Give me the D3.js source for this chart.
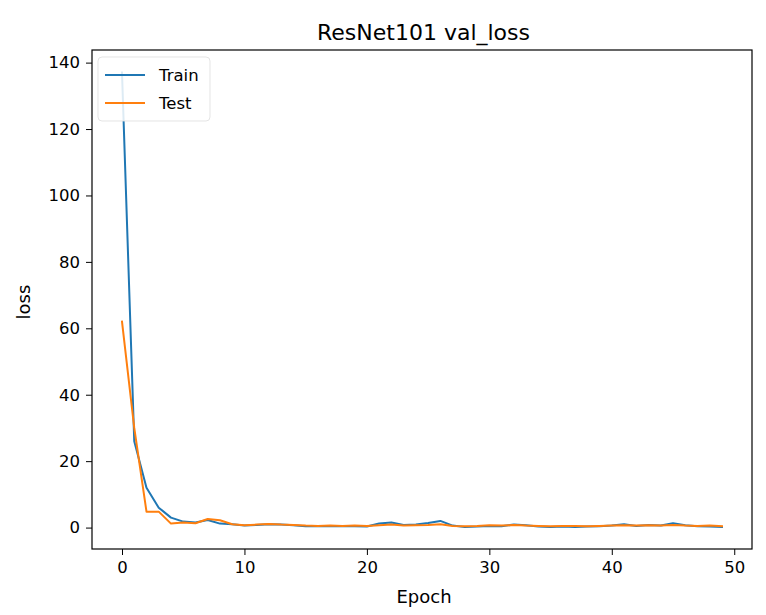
<!DOCTYPE html>
<html><head><meta charset="utf-8">
<script src="https://cdn.jsdelivr.net/npm/d3@7"></script>
<style>body{margin:0;background:#fff}svg{display:block}text{font-family:"DejaVu Sans",sans-serif;fill:#000}</style>
</head><body>
<script>
const epochs = d3.range(0, 50);
const trainLoss = [137,26,12,6,3,1.8,1.5,2.3,1.2,1.0,0.6,0.8,1.0,0.9,0.7,0.4,0.5,0.4,0.5,0.4,0.3,1.2,1.5,0.8,0.9,1.4,2.0,0.6,0.2,0.3,0.5,0.4,0.9,0.7,0.3,0.2,0.3,0.2,0.3,0.4,0.6,1.0,0.5,0.8,0.6,1.3,0.7,0.4,0.3,0.2];
const testLoss = [62,30,4.8,4.8,1.2,1.5,1.3,2.6,2.2,1.0,0.7,0.9,1.1,0.9,0.8,0.6,0.5,0.6,0.5,0.6,0.5,0.7,0.9,0.6,0.7,0.8,1.0,0.5,0.4,0.5,0.7,0.6,0.8,0.6,0.5,0.4,0.5,0.5,0.4,0.5,0.6,0.7,0.6,0.7,0.6,0.8,0.6,0.5,0.6,0.4];
const xTicks = [0,10,20,30,40,50];
const yTicks = [0,20,40,60,80,100,120,140];
const seriesNames = ["Train","Test"];
const colors = ["#1f77b4","#ff7f0e"];
const title = "ResNet101 val_loss";

const W = 766, H = 615;
const L = 92, R = 752, T = 50, B = 549;
const svg = d3.select("body").append("svg").attr("width", W).attr("height", H);
const x = d3.scaleLinear().domain([-2.45, 51.45]).range([L, R]);
const y = d3.scaleLinear().domain([-6.45, 143.8]).range([B, T]);

const g = svg.append("g");
const series = [trainLoss, testLoss];
const line = d3.line().x((d,i)=>x(epochs[i])).y(d=>y(d));
series.forEach((s,k)=>{
  g.append("path").datum(s).attr("d", line).attr("fill","none")
   .attr("stroke", colors[k]).attr("stroke-width", 2).attr("stroke-linejoin","round").attr("stroke-linecap","square");
});

// axes
const xa = svg.append("g").attr("transform", `translate(0,${B})`)
  .call(d3.axisBottom(x).tickValues(xTicks).tickSize(6).tickPadding(6).tickFormat(d3.format("d")));
const ya = svg.append("g").attr("transform", `translate(${L},0)`)
  .call(d3.axisLeft(y).tickValues(yTicks).tickSize(6).tickPadding(6).tickFormat(d3.format("d")));
[xa, ya].forEach(a=>{
  a.select(".domain").remove();
  a.selectAll("line").attr("stroke","#000").attr("stroke-width",1);
  a.selectAll("text").attr("font-size", 16.5).attr("font-family","DejaVu Sans").attr("fill","#000");
});
svg.append("rect").attr("x", L).attr("y", T).attr("width", R-L).attr("height", B-T)
  .attr("fill","none").attr("stroke","#000").attr("stroke-width",1.2);

// labels
svg.append("text").attr("x",423.5).attr("y",39.5).attr("text-anchor","middle").attr("font-size",22).text(title);
svg.append("text").attr("x",424).attr("y",603).attr("text-anchor","middle").attr("font-size",18).text("Epoch");
svg.append("text").attr("transform",`translate(29.5,302) rotate(-90)`).attr("text-anchor","middle").attr("font-size",18).text("loss");

// legend
const lg = svg.append("g");
lg.append("rect").attr("x",98).attr("y",57).attr("width",112).attr("height",64).attr("rx",4)
  .attr("fill","#fff").attr("fill-opacity",0.85).attr("stroke","#ddd").attr("stroke-opacity",0.8);
seriesNames.forEach((n,k)=>{
  const yy = 75 + k*28;
  lg.append("line").attr("x1",105).attr("x2",145).attr("y1",yy).attr("y2",yy).attr("stroke",colors[k]).attr("stroke-width",2);
  lg.append("text").attr("x",159).attr("y",yy+6).attr("font-size",16.5).text(n);
});
</script>
</body></html>
